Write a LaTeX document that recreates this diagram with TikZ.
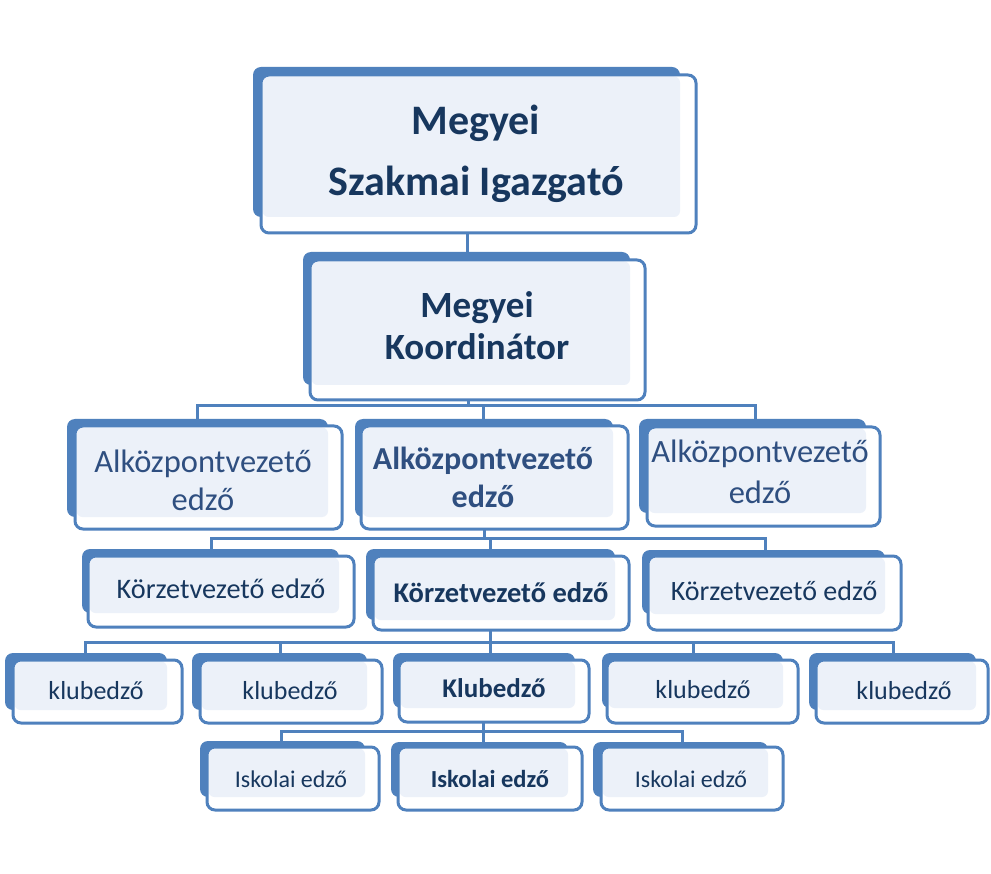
\documentclass[tikz,border=0pt]{standalone}
\usepackage{fontspec}
\setmainfont{Carlito}
\usetikzlibrary{calc}
\definecolor{bk}{HTML}{4F81BD}
\definecolor{lt}{HTML}{ECF1F9}
\definecolor{tx}{HTML}{17375E}
\definecolor{tx2}{HTML}{2F4F80}
\pgfdeclarelayer{bg}
\pgfsetlayers{bg,main}
% #1 name, #2-#5 back box x0,y0,x1,y1, #6-#9 front box x0,y0,x1,y1
\newcommand\obox[9]{%
  \fill[bk, rounded corners=8pt] (#2,#3) rectangle (#4,#5);
  \fill[white, rounded corners=8pt] (#6,#7) rectangle (#8,#9);
  \fill[lt, rounded corners=6pt] (#6+1.5,#7+1.5) rectangle (#4,#5);
  \node[frontbox, minimum width={(#8-#6)*1pt}, minimum height={(#9-#7)*1pt}]
    (#1) at ({(#6+#8)/2},{(#7+#9)/2}) {};
}
% #1 name, #2 x, #3 baseline y, #4 font, #5 colour, #6 text
\newcommand\otext[6]{%
  \node[anchor=base, inner sep=0pt, text=#5, font=#4] (#1) at (#2,#3)
    {\begin{tabular}[t]{@{}c@{}}#6\end{tabular}};
}
\begin{document}
\begin{tikzpicture}[x=1pt, y=-1pt,
  conn/.style={draw=bk, line width=3pt},
  frontbox/.style={draw=bk, line width=3pt, rounded corners=8pt, inner sep=0pt, outer sep=0pt}]
\useasboundingbox (0,0) rectangle (991,874);
\begin{pgfonlayer}{bg}
  \fill[white] (0,0) rectangle (991,874);
\end{pgfonlayer}

\obox{si}{253}{67}{680}{217}{261}{75}{696}{233}
\obox{ko}{303}{252}{630}{385}{310}{260}{645}{400}
\obox{a1}{67}{419}{328}{517}{75}{426}{342}{529}
\obox{a2}{355}{419}{613}{517}{361}{426}{628}{529}
\obox{a3}{639}{419}{866}{513}{647}{427}{880}{526}
\obox{k1}{82}{549}{339}{613}{88}{556}{354}{627}
\obox{k2}{366}{549}{615}{620}{373}{556}{629}{630}
\obox{k3}{642}{550}{885}{614}{648}{556}{901}{630}
\obox{c1}{5}{653}{167}{710}{13}{660}{182}{723}
\obox{c2}{192}{653}{367}{710}{200}{660}{382}{723}
\obox{c3}{393}{653}{575}{708}{399}{660}{589}{722}
\obox{c4}{602}{653}{783}{708}{607}{660}{798}{723}
\obox{c5}{809}{653}{976}{710}{816}{660}{988}{723}
\obox{s1}{200}{741}{365}{797}{207}{747}{379}{810}
\obox{s2}{391}{742}{568}{797}{398}{747}{582}{810}
\obox{s3}{593}{742}{768}{797}{601}{747}{783}{810}

\otext{tsi}{476}{135}{\fontsize{42}{61}\selectfont\bfseries}{tx}{Megyei\\Szakmai Igazgató}
\otext{tko}{477}{318}{\fontsize{37}{42}\selectfont\bfseries}{tx}{Megyei\\Koordinátor}
\otext{ta1}{203}{472}{\fontsize{32.5}{38}\selectfont}{tx2}{Alközpontvezető\\edző}
\otext{ta2}{483}{470}{\fontsize{32}{38}\selectfont\bfseries}{tx2}{Alközpontvezető\\edző}
\otext{ta3}{760}{463}{\fontsize{32.5}{40}\selectfont}{tx2}{Alközpontvezető\\edző}
\otext{tk1}{221}{598}{\fontsize{28.3}{34}\selectfont}{tx}{Körzetvezető edző}
\otext{tk2}{501}{602}{\fontsize{28.5}{34}\selectfont\bfseries}{tx}{Körzetvezető edző}
\otext{tk3}{774}{600}{\fontsize{28}{34}\selectfont}{tx}{Körzetvezető edző}
\otext{tc1}{96}{699}{\fontsize{26}{31}\selectfont}{tx}{klubedző}
\otext{tc2}{290}{699}{\fontsize{26}{31}\selectfont}{tx}{klubedző}
\otext{tc3}{494}{697}{\fontsize{27}{31}\selectfont\bfseries}{tx}{Klubedző}
\otext{tc4}{703}{698}{\fontsize{26}{31}\selectfont}{tx}{klubedző}
\otext{tc5}{904}{699}{\fontsize{26}{31}\selectfont}{tx}{klubedző}
\otext{ts1}{291}{787}{\fontsize{24}{29}\selectfont}{tx}{Iskolai edző}
\otext{ts2}{490}{787}{\fontsize{24.5}{29}\selectfont\bfseries}{tx}{Iskolai edző}
\otext{ts3}{691}{787}{\fontsize{24}{29}\selectfont}{tx}{Iskolai edző}

\begin{pgfonlayer}{bg}
  % level 1
  \coordinate (x0) at (467,0);
  \draw[conn] (si.south -| x0) -- (ko.north -| x0);
  % level 2
  \coordinate (h1a) at (197,406);
  \coordinate (h1b) at (755,406);
  \coordinate (x1) at (468,0);
  \coordinate (x1m) at (483,0);
  \draw[conn] (ko.south -| x1) -- (x1 |- h1a);
  \draw[conn] (h1a |- a1.north) -- (h1a) -- (h1b) -- (h1b |- a3.north);
  \draw[conn] (x1m |- h1a) -- (x1m |- a2.north);
  % level 3
  \coordinate (h2a) at (211,538);
  \coordinate (h2b) at (765,538);
  \coordinate (x2) at (484,0);
  \coordinate (x2m) at (490,0);
  \draw[conn] (a2.south -| x2) -- (x2 |- h2a);
  \draw[conn] (h2a |- k1.north) -- (h2a) -- (h2b) -- (h2b |- k3.north);
  \draw[conn] (x2m |- h2a) -- (x2m |- k2.north);
  % level 4
  \coordinate (h3a) at (85,642);
  \coordinate (h3b) at (893,642);
  \coordinate (x3) at (490,0);
  \coordinate (x3b) at (280,0);
  \coordinate (x3d) at (693,0);
  \draw[conn] (k2.south -| x3) -- (x3 |- h3a);
  \draw[conn] (h3a |- c1.north) -- (h3a) -- (h3b) -- (h3b |- c5.north);
  \draw[conn] (x3b |- h3a) -- (x3b |- c2.north);
  \draw[conn] (x3 |- h3a) -- (x3 |- c3.north);
  \draw[conn] (x3d |- h3a) -- (x3d |- c4.north);
  % level 5
  \coordinate (h4a) at (281,731);
  \coordinate (h4b) at (682,731);
  \coordinate (x4) at (483,0);
  \draw[conn] (c3.south -| x4) -- (x4 |- h4a);
  \draw[conn] (h4a |- s1.north) -- (h4a) -- (h4b) -- (h4b |- s3.north);
  \draw[conn] (x4 |- h4a) -- (x4 |- s2.north);
\end{pgfonlayer}
\end{tikzpicture}
\end{document}
